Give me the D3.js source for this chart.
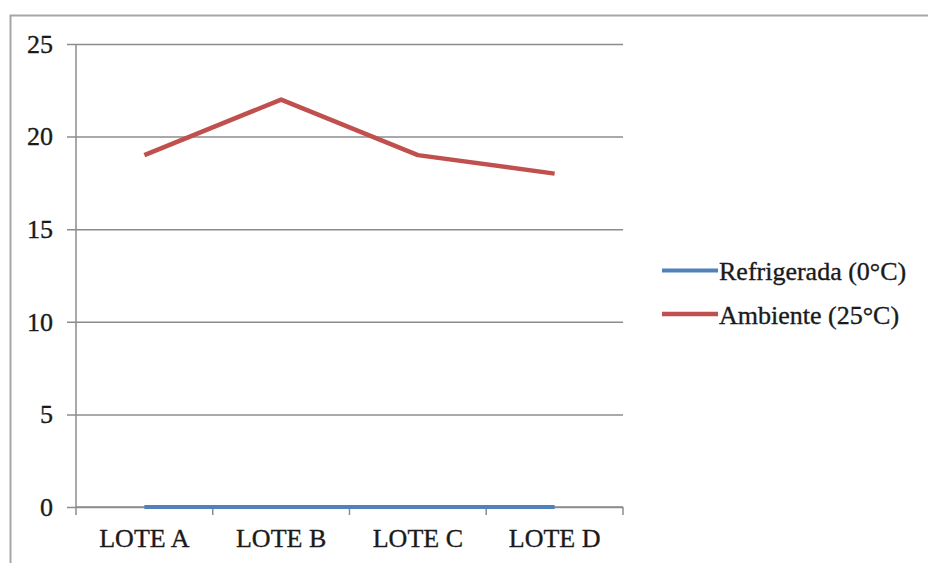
<!DOCTYPE html>
<html>
<head>
<meta charset="utf-8">
<script src="https://cdn.jsdelivr.net/npm/d3@7"></script>
<style>
  html, body { margin: 0; padding: 0; background: #fff; }
  svg { display: block; }
  text { font-family: "Liberation Serif", "Times New Roman", serif; fill: #1a1a1a; stroke: #1a1a1a; stroke-width: 0.35px; }
</style>
</head>
<body>
<svg id="chart" width="928" height="563"></svg>
<script>
// Lotes and readings per storage condition
const categories = ["LOTE A", "LOTE B", "LOTE C", "LOTE D"];
const seriesNames = ["Refrigerada (0°C)", "Ambiente (25°C)"];
const refrigerada = [0, 0, 0, 0];
const ambiente = [19, 22, 19, 18];
const yTicks = [0, 5, 10, 15, 20, 25];

const colors = ["#4F81BD", "#C0504D"];
const series = [
  { name: seriesNames[0], values: refrigerada, color: colors[0], width: 4 },
  { name: seriesNames[1], values: ambiente, color: colors[1], width: 4.5 }
];

const svg = d3.select("#chart");
const fontFamily = "Liberation Serif, Times New Roman, serif";

// Outer chart frame
svg.append("rect")
  .attr("x", 10.5).attr("y", 15.5)
  .attr("width", 940).attr("height", 600)
  .attr("fill", "none").attr("stroke", "#a6a6a6").attr("stroke-width", 2);

const plotLeft = 76, plotRight = 623, plotTop = 44, plotBottom = 507;

const x = d3.scaleBand().domain(categories).range([plotLeft, plotRight]);
const y = d3.scaleLinear().domain([0, 25]).range([plotBottom, plotTop]);

// Horizontal gridlines with outward ticks
const yAxis = d3.axisLeft(y).tickValues(yTicks).tickSize(-(plotRight - plotLeft)).tickPadding(23);
const gy = svg.append("g").attr("transform", `translate(${plotLeft},0)`).call(yAxis);
gy.attr("font-family", fontFamily).attr("font-size", 26);
gy.select(".domain").remove();
gy.selectAll(".tick line")
  .attr("x1", -9)
  .attr("stroke", "#8c8c8c").attr("stroke-width", 1.5);

// Vertical axis line
svg.append("line")
  .attr("x1", plotLeft).attr("x2", plotLeft)
  .attr("y1", plotTop).attr("y2", plotBottom)
  .attr("stroke", "#8c8c8c").attr("stroke-width", 1.5);

// Category axis: boundary ticks between bands
const xAxis = svg.append("g").attr("transform", `translate(0,${plotBottom})`);
xAxis.append("line")
  .attr("x1", plotLeft).attr("x2", plotRight)
  .attr("stroke", "#8c8c8c").attr("stroke-width", 1.5);
const bounds = categories.map(c => x(c)).concat([x(categories[categories.length - 1]) + x.bandwidth()]);
xAxis.selectAll("line.btick").data(bounds).join("line")
  .attr("class", "btick")
  .attr("x1", d => d).attr("x2", d => d)
  .attr("y1", 0).attr("y2", 8)
  .attr("stroke", "#8c8c8c").attr("stroke-width", 1.5);
xAxis.selectAll("text").data(categories).join("text")
  .attr("x", d => x(d) + x.bandwidth() / 2)
  .attr("y", 40)
  .attr("text-anchor", "middle")
  .attr("font-size", 26)
  .text(d => d);

// Series lines
const line = d3.line()
  .x((d, i) => x(categories[i]) + x.bandwidth() / 2)
  .y(d => y(d));

svg.selectAll("path.series").data(series).join("path")
  .attr("class", "series")
  .attr("d", d => line(d.values))
  .attr("fill", "none")
  .attr("stroke", d => d.color)
  .attr("stroke-width", d => d.width)
  .attr("stroke-linejoin", "round");

// Legend
const legend = svg.append("g").attr("transform", "translate(662,270.5)");
const items = legend.selectAll("g").data(series).join("g")
  .attr("transform", (d, i) => `translate(0,${i * 43.5})`);
items.append("line")
  .attr("x1", 0).attr("x2", 56)
  .attr("stroke", d => d.color).attr("stroke-width", d => d.width);
items.append("text")
  .attr("x", 57).attr("y", 9.5)
  .attr("font-size", 26)
  .text(d => d.name);
</script>
</body>
</html>
